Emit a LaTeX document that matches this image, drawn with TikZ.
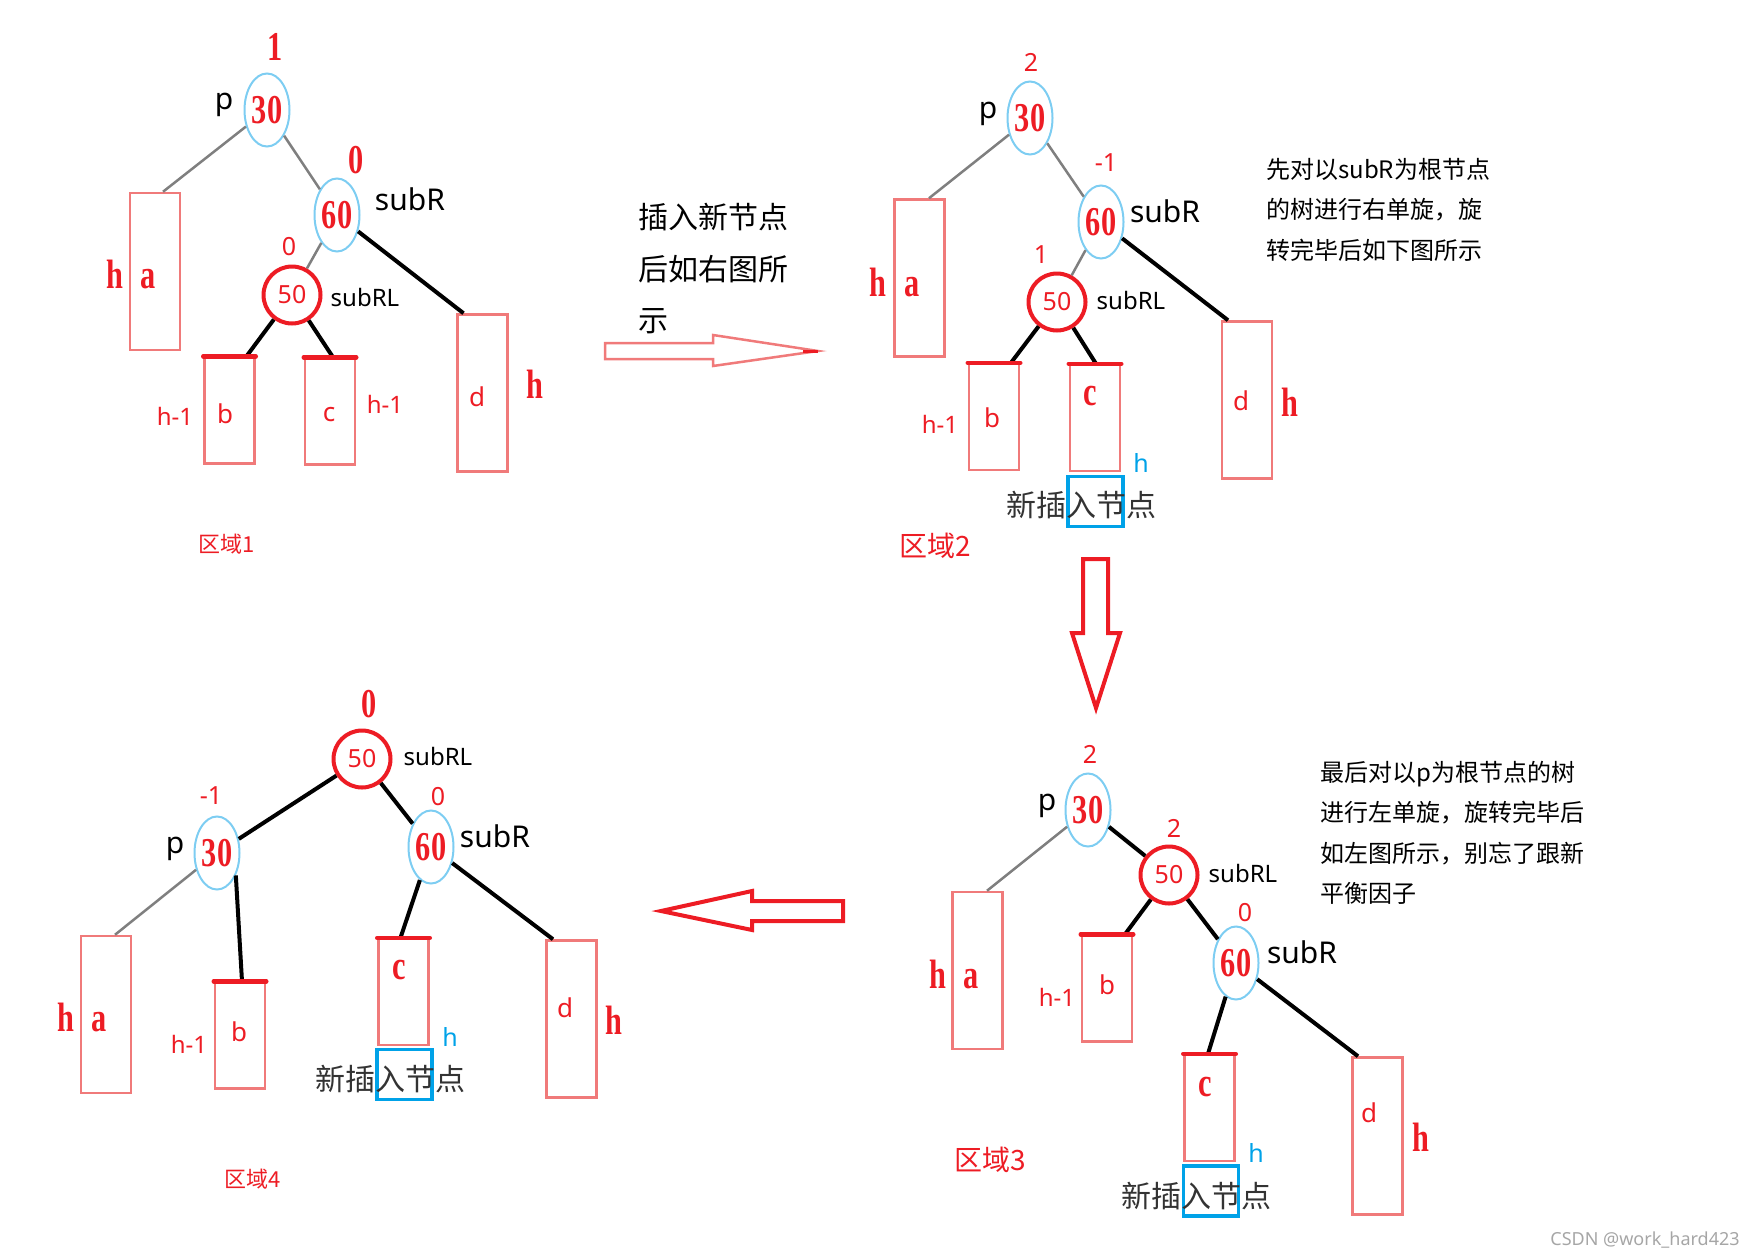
\documentclass[tikz,border=0pt]{standalone}
\usepackage{fontspec}
\setmainfont{Noto Sans}
\newfontfamily\cjk{Noto Sans CJK SC}
\newfontfamily\serifnum[FakeStretch=0.74]{Liberation Serif}
\usetikzlibrary{shapes.geometric,calc}
\definecolor{paintred}{HTML}{ED1C24}
\definecolor{boxred}{HTML}{F07A7A}
\definecolor{ringblue}{HTML}{7DCDF2}
\definecolor{newblue}{HTML}{00A2E8}
\definecolor{edgegray}{HTML}{7F7F7F}
\definecolor{txtgray}{HTML}{333333}
\newcommand\fsz[1]{\fontsize{#1}{#1}\selectfont}
\tikzset{
  avl/.style={ellipse,draw=ringblue,line width=2pt,minimum width=45pt,minimum height=73pt,inner sep=0,
              text=paintred,font=\serifnum\bfseries\fsz{41}},
  pivot/.style={circle,draw=paintred,line width=4pt,minimum size=57pt,inner sep=0,text=paintred,font=\fsz{25}},
  subtree/.style={rectangle,draw=boxred,line width=2.5pt,minimum width=50pt,minimum height=157pt,inner sep=0},
  short/.style={subtree,minimum height=106pt},
  graylink/.style={draw=edgegray,line width=2.5pt},
  link/.style={line width=4pt},
  topbar/.style={draw=paintred,line width=4.5pt,line cap=round},
  bal/.style={text=paintred,inner sep=0,font=\fsz{25}},
  balbig/.style={text=paintred,inner sep=0,font=\serifnum\bfseries\fsz{41}},
  ptr/.style={inner sep=0,font=\fsz{30}},
  ptrsm/.style={inner sep=0,font=\fsz{24}},
  hmark/.style={text=paintred,inner sep=0,font=\serifnum\bfseries\fsz{41}},
  leaf/.style={text=paintred,inner sep=0,font=\fsz{26}},
  hlen/.style={text=paintred,inner sep=0,font=\fsz{24}},
  newh/.style={text=newblue,inner sep=0,font=\fsz{25}},
  newbox/.style={draw=newblue,line width=3.5pt,minimum width=55pt,minimum height=50pt,inner sep=0},
  newtxt/.style={text=txtgray,inner sep=0,font=\cjk\fsz{30}},
  note/.style={anchor=north west,inner sep=0,align=left,font=\cjk\fontsize{24}{40.5}\selectfont},
  area/.style={text=paintred,inner sep=0,font=\cjk\fsz{28}},
  blockarrow/.style={draw=paintred,line width=4pt,line join=miter},
}
\begin{document}
\begin{tikzpicture}[x=1pt,y=-1pt]
  \useasboundingbox (0,0) rectangle (1750,1258);
  % region 1: after insertion into c
  \node[avl] (p1) at (267,110) {30};
  \node[avl] (r1) at (337,215) {60};
  \node[pivot] (rl1) at (292,295) {50};
  \node[subtree] (a1) at (155,271.5) {};
  \node[short] (b1) at (229.5,410.5) {};
  \node[short] (c1) at (330,411.5) {};
  \node[subtree] (d1) at (482.5,393) {};
  \draw[graylink] (p1) -- ([xshift=8pt]a1.north);
  \draw[graylink] (p1) -- (r1);
  \draw[graylink] (r1) -- (rl1);
  \draw[link] (r1) -- ([xshift=-19pt]d1.north);
  \draw[link] (rl1) -- ([xshift=17pt]b1.north);
  \draw[link] (rl1) -- ([xshift=3pt]c1.north);
  \node[balbig] (f1p) at (275,47) {1};
  \node[ptr] (n1p) at (224,105) {p};
  \node[balbig] (f1r) at (356,160) {0};
  \node[ptr] (n1r) at (410,199) {subR};
  \node[bal] (f1rl) at (289,247) {0};
  \node[ptrsm] (n1rl) at (365,297) {subRL};
  \node[hmark] (h1a) at (115,274) {h};
  \node[hmark] (t1a) at (148,279) {a};
  \node[hlen] (h1b) at (175,416) {h-1};
  \node[leaf] (t1b) at (225,414) {b};
  \node[leaf] (t1c) at (329,415) {c};
  \node[hlen] (h1c) at (385,404) {h-1};
  \node[leaf] (t1d) at (477,397) {d};
  \node[hmark] (h1d) at (535,384) {h};
  \node[area,font=\cjk\fsz{22}] (area1) at (227,544) {区域1};

  % arrow 1 -> 2
  \node[note,font=\cjk\fontsize{30}{51.5}\selectfont] (say1) at (638,203) {插入新节点\\后如右图所\\示};
  \draw[draw=boxred,line width=2.5pt] (605,343) -- (713,343) -- (713,335) -- (818,351)
    -- (713,366) -- (713,359) -- (605,359) -- cycle;
  \draw[paintred,line width=3pt] (803,351) -- (818,351);

  % region 2: balance factors after insertion
  \node[avl] (p2) at (1030,118) {30};
  \node[avl] (r2) at (1101,222) {60};
  \node[pivot] (rl2) at (1057,302) {50};
  \node[subtree] (a2) at (919.5,278) {};
  \node[short] (b2) at (994,417) {};
  \node[short] (c2) at (1095,418) {};
  \node[subtree] (d2) at (1247,400) {};
  \draw[graylink] (p2) -- ([xshift=9.5pt]a2.north);
  \draw[graylink] (p2) -- (r2);
  \draw[graylink] (r2) -- (rl2);
  \draw[link] (r2) -- ([xshift=-19pt]d2.north);
  \draw[link] (rl2) -- ([xshift=17pt]b2.north);
  \draw[link] (rl2) -- ([xshift=1pt]c2.north);
  \node[bal] (f2p) at (1031,62) {2};
  \node[ptr] (n2p) at (988,114) {p};
  \node[bal] (f2r) at (1106,163) {-1};
  \node[ptr] (n2r) at (1165,211) {subR};
  \node[bal] (f2rl) at (1041,255) {1};
  \node[ptrsm] (n2rl) at (1131,300) {subRL};
  \node[hmark] (h2a) at (878,282) {h};
  \node[hmark] (t2a) at (912,287) {a};
  \node[hlen] (h2b) at (940,424) {h-1};
  \node[leaf] (t2b) at (992,418) {b};
  \node[hmark] (t2c) at (1090,396) {c};
  \node[leaf] (t2d) at (1241,401) {d};
  \node[hmark] (h2d) at (1290,402) {h};
  \node[newh] (h2c) at (1141,463) {h};
  \node[newbox] (new2) at (1095.5,501.5) {};
  \node[newtxt] (say2) at (1081,505) {新插入节点};
  \node[area] (area2) at (935,546) {区域2};
  \node[note] (note2) at (1266,158) {先对以subR为根节点\\的树进行右单旋，旋\\转完毕后如下图所示};

  % arrow 2 -> 3
  \draw[blockarrow] (1083,559) -- (1108,559) -- (1108,633) -- (1120,633) -- (1096,708)
    -- (1072,633) -- (1083,633) -- cycle;

  % region 3: after the right rotation at subR
  \node[avl] (p3) at (1088,810) {30};
  \node[pivot] (rl3) at (1169,875) {50};
  \node[avl] (r3) at (1236,963) {60};
  \node[subtree] (a3) at (977.5,970.5) {};
  \node[short] (b3) at (1107,988.5) {};
  \node[short] (c3) at (1209.5,1108) {};
  \node[subtree] (d3) at (1377.5,1136) {};
  \draw[graylink] (p3) -- ([xshift=9.5pt]a3.north);
  \draw[link] (p3) -- (rl3);
  \draw[link] (rl3) -- ([xshift=18pt]b3.north);
  \draw[link] (rl3) -- (r3);
  \draw[link] (r3) -- ([xshift=-1.5pt]c3.north);
  \draw[link] (r3) -- ([xshift=-19.5pt]d3.north);
  \node[bal] (f3p) at (1090,754) {2};
  \node[ptr] (n3p) at (1047,806) {p};
  \node[bal] (f3rl) at (1174,828) {2};
  \node[ptrsm] (n3rl) at (1243,873) {subRL};
  \node[bal] (f3r) at (1245,913) {0};
  \node[ptr] (n3r) at (1302,952) {subR};
  \node[hmark] (h3a) at (938,974) {h};
  \node[hmark] (t3a) at (971,979) {a};
  \node[hlen] (h3b) at (1057,997) {h-1};
  \node[leaf] (t3b) at (1107,985) {b};
  \node[hmark] (t3c) at (1205,1087) {c};
  \node[newh] (h3c) at (1256,1153) {h};
  \node[newbox] (new3) at (1211,1191) {};
  \node[newtxt] (say3) at (1196,1196) {新插入节点};
  \node[leaf] (t3d) at (1369,1113) {d};
  \node[hmark] (h3d) at (1421,1137) {h};
  \node[area] (area3) at (990,1160) {区域3};
  \node[note] (note3) at (1320,761) {最后对以p为根节点的树\\进行左单旋，旋转完毕后\\如左图所示，别忘了跟新\\平衡因子};

  % arrow 3 -> 4
  \draw[blockarrow] (843,901) -- (843,921) -- (752,921) -- (752,930) -- (661,911)
    -- (752,891) -- (752,901) -- cycle;

  % region 4: after the left rotation at p
  \node[pivot] (rl4) at (362,759) {50};
  \node[avl] (p4) at (217,853) {30};
  \node[avl] (r4) at (431,847) {60};
  \node[subtree] (a4) at (106,1014.5) {};
  \node[short] (b4) at (240,1035.5) {};
  \node[short] (c4) at (403.5,992) {};
  \node[subtree] (d4) at (571.5,1019) {};
  \draw[link] (rl4) -- (p4);
  \draw[link] (rl4) -- (r4);
  \draw[graylink] (p4) -- ([xshift=9pt]a4.north);
  \draw[link] (p4.-50) -- ([xshift=2pt]b4.north);
  \draw[link] (r4) -- ([xshift=-3pt]c4.north);
  \draw[link] (r4) -- ([xshift=-18.5pt]d4.north);
  \node[balbig] (f4rl) at (369,704) {0};
  \node[ptrsm] (n4rl) at (438,756) {subRL};
  \node[bal] (f4p) at (211,796) {-1};
  \node[ptr] (n4p) at (175,849) {p};
  \node[bal] (f4r) at (438,797) {0};
  \node[ptr] (n4r) at (495,836) {subR};
  \node[hmark] (h4a) at (66,1017) {h};
  \node[hmark] (t4a) at (99,1022) {a};
  \node[hlen] (h4b) at (189,1044) {h-1};
  \node[leaf] (t4b) at (239,1032) {b};
  \node[hmark] (t4c) at (399,970) {c};
  \node[newh] (h4c) at (450,1037) {h};
  \node[newbox] (new4) at (404.5,1074.5) {};
  \node[newtxt] (say4) at (390,1079) {新插入节点};
  \node[leaf] (t4d) at (565,1008) {d};
  \node[hmark] (h4d) at (614,1020) {h};
  \node[area,font=\cjk\fsz{22}] (area4) at (253,1179) {区域4};

  % thick tops of the subtrees that hang from 50
  \foreach \t in {b1,c1,b2,c2,b3,c3,b4,c4}
    \draw[topbar] (\t.north west) -- (\t.north east);

  \node[text=gray!70,inner sep=0,font=\fsz{18}] (mark) at (1645,1240) {CSDN @work\_hard423};
\end{tikzpicture}
\end{document}
